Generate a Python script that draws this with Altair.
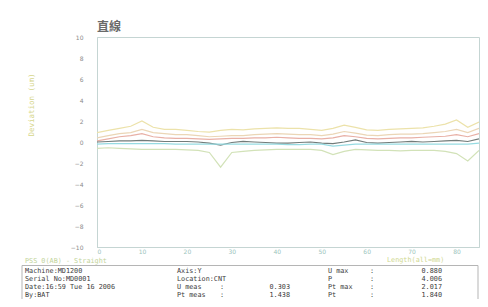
import altair as alt
import pandas as pd

# ---- data ----
x_pts = [0, 2.5, 5, 7.5, 10, 12.5, 15, 17.5, 20, 22.5, 25, 27.5, 30, 32.5, 35, 37.5, 40,
         42.5, 45, 47.5, 50, 52.5, 55, 57.5, 60, 62.5, 65, 67.5, 70, 72.5, 75, 77.5, 80, 82.5, 85]

upper = [0.9, 1.1, 1.3, 1.5, 2.0, 1.4, 1.2, 1.2, 1.1, 1.0, 0.95, 1.1, 1.2, 1.15, 1.25, 1.3, 1.35,
         1.3, 1.3, 1.2, 1.1, 1.3, 1.6, 1.4, 1.15, 1.1, 1.2, 1.25, 1.3, 1.35, 1.5, 1.7, 2.1, 1.4, 1.9]
tan = [0.4, 0.6, 0.8, 0.9, 1.2, 0.9, 0.8, 0.7, 0.7, 0.6, 0.5, 0.55, 0.6, 0.6, 0.7, 0.75, 0.8,
       0.75, 0.7, 0.7, 0.6, 0.75, 1.0, 0.85, 0.65, 0.6, 0.7, 0.75, 0.75, 0.8, 0.9, 1.0, 1.2, 0.9, 1.3]
pink = [0.1, 0.3, 0.5, 0.6, 0.8, 0.5, 0.4, 0.35, 0.35, 0.3, 0.25, 0.3, 0.35, 0.35, 0.4, 0.4, 0.45,
        0.4, 0.35, 0.35, 0.3, 0.4, 0.6, 0.5, 0.35, 0.3, 0.35, 0.4, 0.4, 0.45, 0.5, 0.55, 0.7, 0.5, 0.8]
dark = [0.0, 0.05, 0.1, 0.1, 0.15, 0.1, 0.05, 0.05, 0.05, 0.0, -0.1, -0.3, -0.05, 0.05, 0.0, -0.05, -0.1,
        -0.1, -0.05, 0.0, -0.1, -0.15, 0.0, 0.2, -0.05, -0.1, -0.05, 0.0, 0.05, 0.0, 0.05, 0.1, 0.15, 0.05, 0.3]
cyan = [-0.2, -0.15, -0.15, -0.15, -0.15, -0.15, -0.15, -0.2, -0.2, -0.2, -0.2, -0.2, -0.2, -0.2, -0.2, -0.2, -0.2,
        -0.25, -0.25, -0.2, -0.2, -0.4, -0.3, -0.2, -0.2, -0.2, -0.2, -0.2, -0.2, -0.2, -0.2, -0.2, -0.2, -0.2, -0.1]
lower = [-0.6, -0.55, -0.6, -0.65, -0.7, -0.7, -0.7, -0.7, -0.75, -0.8, -1.0, -2.4, -1.0, -0.9, -0.8, -0.75, -0.7,
         -0.7, -0.7, -0.7, -0.8, -1.2, -0.9, -0.7, -0.75, -0.8, -0.8, -0.85, -0.8, -0.8, -0.8, -0.9, -1.1, -1.8, -0.8]

series_names = ["upper", "tan", "pink", "dark", "cyan", "lower"]
series_vals = [upper, tan, pink, dark, cyan, lower]
series_colors = ["#ece2aa", "#ebd6b6", "#e8b0a6", "#727c7a", "#96dbe2", "#d2e2b8"]

x_ticks = [0, 10, 20, 30, 40, 50, 60, 70, 80]
y_ticks = [-10, -8, -6, -4, -2, 0, 2, 4, 6, 8, 10]

title_text = "直線"
y_title = "Deviation (um)"
x_title = "Length(all=mm)"
sub_text = "PSS 0(AB) - Straight"

col1 = ["Machine:MD1200", "Serial No:MD0001", "Date:16:59 Tue 16 2006", "By:BAT"]
col2 = ["Axis:Y", "Location:CNT", "U meas", "Pt meas"]
col2_vals = ["", "", "0.303", "1.438"]
col3 = ["U max", "P", "Pt max", "Pt"]
col3_vals = ["0.880", "4.006", "2.017", "1.840"]

# ---- build tables ----
rows = []
for name, vals in zip(series_names, series_vals):
    for xv, yv in zip(x_pts, vals):
        rows.append({"series": name, "x": xv, "y": yv})
lines_df = pd.DataFrame(rows)

W, H = 382, 210
row_y = [233.5, 241.5, 249.5, 257.5]
FS = 6.8

left_rows = []
right_rows = []
for i in range(4):
    left_rows.append({"px": -72, "py": row_y[i], "t": col1[i]})
    left_rows.append({"px": 80, "py": row_y[i], "t": col2[i]})
    if col2_vals[i]:
        left_rows.append({"px": 123, "py": row_y[i], "t": ":"})
        right_rows.append({"px": 193, "py": row_y[i], "t": col2_vals[i]})
    left_rows.append({"px": 231, "py": row_y[i], "t": col3[i]})
    left_rows.append({"px": 273, "py": row_y[i], "t": ":"})
    right_rows.append({"px": 345, "py": row_y[i], "t": col3_vals[i]})
left_df = pd.DataFrame(left_rows)
right_df = pd.DataFrame(right_rows)

lines = alt.Chart(lines_df).mark_line(strokeWidth=1.2, clip=True).encode(
    x=alt.X("x:Q", scale=alt.Scale(domain=[0, 85], nice=False, zero=False),
            axis=alt.Axis(values=x_ticks, title=None, grid=False, ticks=False,
                          labelFontSize=6, labelColor="#9cc4bc", labelPadding=1,
                          domainColor="#c5d5d3", labelFont="DejaVu Sans")),
    y=alt.Y("y:Q", scale=alt.Scale(domain=[-10, 10], nice=False),
            axis=alt.Axis(values=y_ticks, title=None, grid=False, ticks=False,
                          labelFontSize=6, labelColor="#8a8a8a", labelPadding=14,
                          domainColor="#c5d5d3", labelFont="DejaVu Sans")),
    color=alt.Color("series:N", scale=alt.Scale(domain=series_names, range=series_colors), legend=None),
    order=alt.Order("x:Q"),
)

one = pd.DataFrame({"a": [0]})

box = alt.Chart(one).mark_rect(fill="white", fillOpacity=0, stroke="#b5b5b5", strokeWidth=1).encode(
    x=alt.value(-75), x2=alt.value(381), y=alt.value(228.5), y2=alt.value(263)
)

def label(text, x, y, **kw):
    return alt.Chart(one).mark_text(text=text, **kw).encode(x=alt.value(x), y=alt.value(y))

title = label(title_text, 0, -10, align="left", baseline="middle", fontSize=12,
              font="Noto Sans CJK SC", fontWeight="bold", color="#6a6a6a")
ytitle = label(y_title, -65, 68, angle=270, align="center", baseline="middle", fontSize=7.5,
               font="DejaVu Sans Mono", color="#d6d68c")
xtitle = label(x_title, 290, 222.5, align="left", baseline="middle", fontSize=6.8,
               font="DejaVu Sans Mono", color="#cfd890")
subtitle = label(sub_text, -72, 223.5, align="left", baseline="middle", fontSize=6.8,
                 font="DejaVu Sans Mono", color="#c2d49a")

tleft = alt.Chart(left_df).mark_text(align="left", baseline="middle", fontSize=FS,
                                     font="DejaVu Sans Mono", color="#3c3c3c").encode(
    x=alt.X("px:Q", scale=None), y=alt.Y("py:Q", scale=None), text="t:N")
tright = alt.Chart(right_df).mark_text(align="right", baseline="middle", fontSize=FS,
                                       font="DejaVu Sans Mono", color="#3c3c3c").encode(
    x=alt.X("px:Q", scale=None), y=alt.Y("py:Q", scale=None), text="t:N")

chart = alt.layer(lines, box, title, ytitle, xtitle, subtitle, tleft, tright).resolve_scale(
    x="independent", y="independent"
).properties(
    width=W, height=H,
    autosize=alt.AutoSizeParams(type="none"),
    padding={"left": 89, "top": 29, "right": 1, "bottom": 52},
    background="white",
).configure_view(stroke="#c5d5d3", strokeWidth=1)

chart.save("out.html", embed_options={"renderer": "svg", "actions": False})
